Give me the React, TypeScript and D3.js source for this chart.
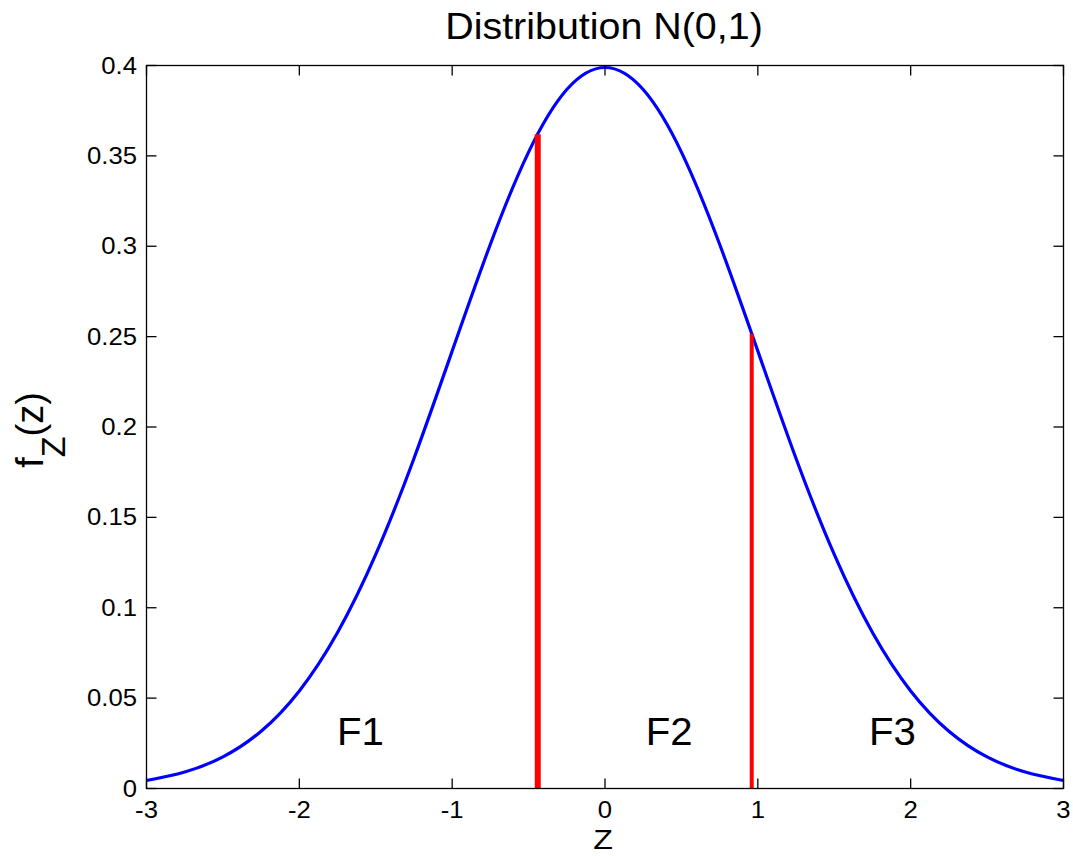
import React from "react";
import * as d3 from "d3";

const zValues = [-3, -2.75, -2.5, -2.25, -2, -1.75, -1.5, -1.25, -1, -0.75, -0.5, -0.25, 0, 0.25, 0.5, 0.75, 1, 1.25, 1.5, 1.75, 2, 2.25, 2.5, 2.75, 3];
const densityValues = [0.0044, 0.0091, 0.0175, 0.0317, 0.054, 0.0863, 0.1295, 0.1826, 0.242, 0.3011, 0.3521, 0.3867, 0.3989, 0.3867, 0.3521, 0.3011, 0.242, 0.1826, 0.1295, 0.0863, 0.054, 0.0317, 0.0175, 0.0091, 0.0044];
const cutZ = [-0.44, 0.96];
const cutHeights = [0.362, 0.2516];
const cutWidths = [6, 4];
const xTicks = [-3, -2, -1, 0, 1, 2, 3];
const yTicks = [0, 0.05, 0.1, 0.15, 0.2, 0.25, 0.3, 0.35, 0.4];
const regionLabels = ["F1", "F2", "F3"];
const regionZ = [-1.6, 0.42, 1.88];

const W = 1073, H = 856;
const left = 146.5, right = 1063.5, top = 65.5, bottom = 788.5;
const font = "'Liberation Sans', Arial, Helvetica, sans-serif";

export default function App() {
  const x = d3.scaleLinear().domain([-3, 3]).range([left, right]);
  const y = d3.scaleLinear().domain([0, 0.4]).range([bottom, top]);
  const line = d3
    .line<number>()
    .x((_, i) => x(zValues[i]))
    .y((d) => y(d))
    .curve(d3.curveNatural);
  const tl = 10;
  const sx = 1.07;
  return (
    <svg width={W} height={H} style={{ position: "absolute", left: 0, top: 0, background: "#fff" }} fontFamily={font}>
      <rect x={0} y={0} width={W} height={H} fill="#fff" />
      <path d={line(densityValues) || ""} fill="none" stroke="#0000ff" strokeWidth={3.2} />
      {cutZ.map((z, i) => (
        <line key={i} x1={x(z)} x2={x(z)} y1={y(0)} y2={y(cutHeights[i])} stroke="#ff0000" strokeWidth={cutWidths[i]} />
      ))}
      <rect x={left} y={top} width={right - left} height={bottom - top} fill="none" stroke="#000" strokeWidth={1.3} />
      {xTicks.map((t) => (
        <g key={"x" + t}>
          <line x1={x(t)} x2={x(t)} y1={bottom} y2={bottom - tl} stroke="#000" strokeWidth={1.3} />
          <line x1={x(t)} x2={x(t)} y1={top} y2={top + tl} stroke="#000" strokeWidth={1.3} />
          <text transform={`translate(${x(t)},818) scale(${sx},1)`} textAnchor="middle" fontSize={24} fill="#000">{t}</text>
        </g>
      ))}
      {yTicks.map((t) => (
        <g key={"y" + t}>
          <line x1={left} x2={left + tl} y1={y(t)} y2={y(t)} stroke="#000" strokeWidth={1.3} />
          <line x1={right} x2={right - tl} y1={y(t)} y2={y(t)} stroke="#000" strokeWidth={1.3} />
          <text transform={`translate(137,${y(t) + 8}) scale(${sx},1)`} textAnchor="end" fontSize={24} fill="#000">{String(t)}</text>
        </g>
      ))}
      {regionLabels.map((l, i) => (
        <text key={l} transform={`translate(${x(regionZ[i])},745) scale(1.03,1)`} textAnchor="middle" fontSize={39} fill="#000">{l}</text>
      ))}
      <text transform={`translate(604,39) scale(1.065,1)`} textAnchor="middle" fontSize={37} fill="#000">Distribution N(0,1)</text>
      <text transform="translate(603,849) scale(1.15,1)" textAnchor="middle" fontSize={28} fill="#000">Z</text>
      <text transform="translate(43,430) rotate(-90)" textAnchor="middle" fontSize={38} fill="#000">
        f<tspan dy={22} fontSize={34}>Z</tspan><tspan dy={-22}>(z)</tspan>
      </text>
    </svg>
  );
}
